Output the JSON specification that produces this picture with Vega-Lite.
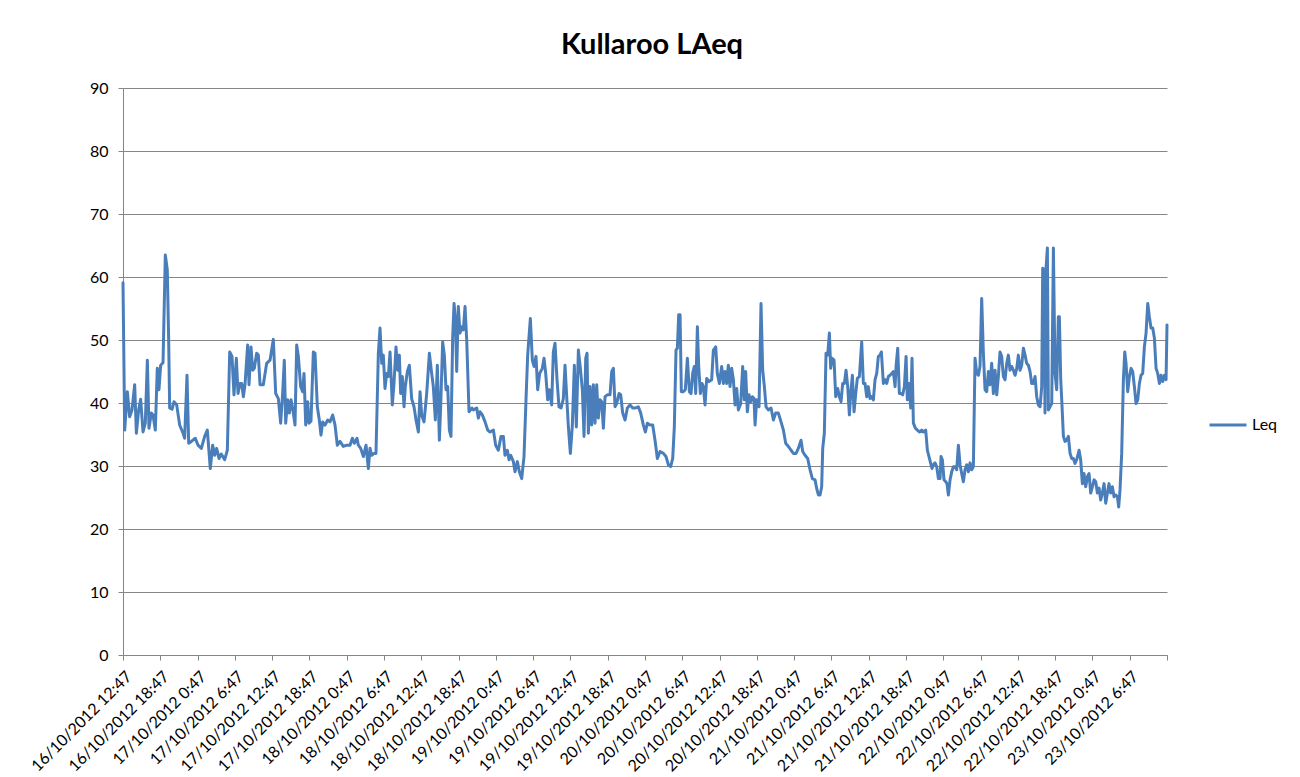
{
"$schema": "https://vega.github.io/schema/vega-lite/v6.json",
"width": 1044, "height": 567,
"autosize": {"type": "none"},
"padding": {"left": 123, "top": 88, "right": 133, "bottom": 122},
"background": "white",
"title": {"text": "Kullaroo LAeq", "anchor": "middle", "frame": "group", "fontSize": 29, "fontWeight": "bold", "font": "Lato", "color": "#000", "baseline": "alphabetic", "offset": -3, "dx": 7},
"data": {"values": [
{"hours":0,"leq":59.1},{"hours":0.27,"leq":35.7},{"hours":0.7,"leq":41.8},{"hours":1.07,"leq":37.8},{"hours":1.45,"leq":38.9},{"hours":1.88,"leq":42.9},{"hours":2.15,"leq":35.2},{"hours":2.52,"leq":38.9},{"hours":2.84,"leq":40.6},{"hours":3.22,"leq":35.4},{"hours":3.59,"leq":36.8},{"hours":3.92,"leq":46.8},{"hours":4.18,"leq":36.0},{"hours":4.56,"leq":38.4},{"hours":4.83,"leq":38.1},{"hours":5.2,"leq":35.7},{"hours":5.52,"leq":45.5},{"hours":5.79,"leq":42.1},{"hours":6.06,"leq":46.0},{"hours":6.44,"leq":46.4},{"hours":6.81,"leq":63.5},{"hours":7.13,"leq":61.1},{"hours":7.35,"leq":50.0},{"hours":7.51,"leq":39.2},{"hours":7.89,"leq":39.0},{"hours":8.21,"leq":40.2},{"hours":8.64,"leq":39.7},{"hours":9.12,"leq":36.5},{"hours":9.66,"leq":35.2},{"hours":9.92,"leq":34.4},{"hours":10.3,"leq":44.4},{"hours":10.57,"leq":33.6},{"hours":11.0,"leq":33.9},{"hours":11.64,"leq":34.4},{"hours":12.07,"leq":33.3},{"hours":12.61,"leq":32.8},{"hours":13.14,"leq":34.7},{"hours":13.57,"leq":35.7},{"hours":14.05,"leq":29.6},{"hours":14.43,"leq":33.3},{"hours":14.75,"leq":31.7},{"hours":15.07,"leq":32.8},{"hours":15.45,"leq":31.2},{"hours":15.82,"leq":31.9},{"hours":16.36,"leq":31.0},{"hours":16.79,"leq":32.5},{"hours":17.17,"leq":48.1},{"hours":17.54,"leq":47.4},{"hours":17.86,"leq":41.3},{"hours":18.24,"leq":47.1},{"hours":18.51,"leq":41.5},{"hours":18.83,"leq":43.1},
{"hours":19.1,"leq":43.1},{"hours":19.37,"leq":41.0},{"hours":19.63,"leq":42.9},{"hours":20.06,"leq":49.2},{"hours":20.28,"leq":42.9},{"hours":20.6,"leq":48.9},{"hours":20.87,"leq":45.2},{"hours":21.13,"leq":45.5},{"hours":21.51,"leq":47.9},{"hours":21.78,"leq":47.6},{"hours":22.05,"leq":42.9},{"hours":22.58,"leq":42.9},{"hours":23.12,"leq":46.3},{"hours":23.66,"leq":46.8},{"hours":23.92,"leq":48.4},{"hours":24.19,"leq":50.1},{"hours":24.57,"leq":41.5},{"hours":25.0,"leq":40.7},{"hours":25.37,"leq":36.8},{"hours":25.69,"leq":41.5},{"hours":25.96,"leq":46.8},{"hours":26.18,"leq":36.8},{"hours":26.5,"leq":40.5},{"hours":26.77,"leq":38.4},{"hours":27.04,"leq":40.5},{"hours":27.41,"leq":38.4},{"hours":27.68,"leq":36.5},{"hours":27.95,"leq":49.2},{"hours":28.22,"leq":47.4},{"hours":28.59,"leq":42.6},{"hours":28.91,"leq":41.8},{"hours":29.13,"leq":44.7},{"hours":29.4,"leq":36.5},{"hours":29.72,"leq":40.2},{"hours":29.93,"leq":36.8},{"hours":30.25,"leq":37.1},{"hours":30.63,"leq":48.1},{"hours":30.9,"leq":47.9},{"hours":31.27,"leq":39.4},{"hours":31.59,"leq":37.3},{"hours":31.86,"leq":34.9},{"hours":32.13,"leq":37.0},{"hours":32.51,"leq":36.5},{"hours":32.94,"leq":37.3},{"hours":33.31,"leq":37.0},{"hours":33.74,"leq":38.1},{"hours":34.12,"leq":36.5},{"hours":34.49,"leq":33.3},{"hours":34.92,"leq":33.9},{"hours":35.46,"leq":33.1},{"hours":35.99,"leq":33.3},{"hours":36.53,"leq":33.3},{"hours":36.91,"leq":34.4},{"hours":37.23,"leq":33.6},{"hours":37.66,"leq":34.4},
{"hours":37.87,"leq":33.3},{"hours":38.25,"leq":32.8},{"hours":38.68,"leq":31.5},{"hours":39.11,"leq":33.3},{"hours":39.48,"leq":29.6},{"hours":39.75,"leq":32.8},{"hours":40.02,"leq":31.7},{"hours":40.39,"leq":32.0},{"hours":40.71,"leq":32.0},{"hours":41.09,"leq":47.9},{"hours":41.36,"leq":51.9},{"hours":41.63,"leq":46.3},{"hours":41.89,"leq":47.6},{"hours":42.16,"leq":42.3},{"hours":42.43,"leq":44.7},{"hours":42.7,"leq":44.2},{"hours":42.97,"leq":48.1},{"hours":43.34,"leq":39.7},{"hours":43.61,"leq":43.1},{"hours":43.93,"leq":48.9},{"hours":44.2,"leq":45.2},{"hours":44.47,"leq":47.6},{"hours":44.68,"leq":41.5},{"hours":44.95,"leq":44.2},{"hours":45.22,"leq":39.4},{"hours":45.43,"leq":42.6},{"hours":45.76,"leq":45.0},{"hours":46.08,"leq":46.0},{"hours":46.45,"leq":40.7},{"hours":46.83,"leq":39.4},{"hours":47.15,"leq":37.3},{"hours":47.53,"leq":35.4},{"hours":47.8,"leq":41.8},{"hours":48.06,"leq":38.1},{"hours":48.44,"leq":37.0},{"hours":48.87,"leq":41.5},{"hours":49.3,"leq":47.9},{"hours":49.67,"leq":44.7},{"hours":49.94,"leq":42.6},{"hours":50.26,"leq":37.3},{"hours":50.58,"leq":46.0},{"hours":50.91,"leq":34.1},{"hours":51.12,"leq":39.4},{"hours":51.44,"leq":49.7},{"hours":51.71,"leq":47.6},{"hours":51.98,"leq":42.1},{"hours":52.25,"leq":42.6},{"hours":52.52,"leq":35.7},{"hours":52.78,"leq":34.7},{"hours":53.05,"leq":50.3},{"hours":53.27,"leq":55.8},{"hours":53.48,"leq":53.4},{"hours":53.7,"leq":45.0},{"hours":53.96,"leq":55.3},{"hours":54.23,"leq":51.1},{"hours":54.55,"leq":52.1},{"hours":54.77,"leq":51.6},{"hours":55.04,"leq":55.3},{"hours":55.31,"leq":50.0},{"hours":55.68,"leq":38.6},{"hours":56.16,"leq":39.2},
{"hours":56.38,"leq":38.9},{"hours":56.92,"leq":39.2},{"hours":57.18,"leq":37.6},{"hours":57.45,"leq":38.6},{"hours":57.83,"leq":38.1},{"hours":58.26,"leq":37.0},{"hours":58.69,"leq":35.7},{"hours":59.06,"leq":35.4},{"hours":59.6,"leq":35.7},{"hours":59.97,"leq":33.3},{"hours":60.4,"leq":32.5},{"hours":60.83,"leq":34.7},{"hours":61.21,"leq":34.7},{"hours":61.47,"leq":31.7},{"hours":61.85,"leq":32.5},{"hours":62.12,"leq":31.0},{"hours":62.39,"leq":31.7},{"hours":62.82,"leq":30.7},{"hours":63.08,"leq":29.1},{"hours":63.46,"leq":30.7},{"hours":63.78,"leq":29.1},{"hours":64.16,"leq":28.0},{"hours":64.53,"leq":31.5},{"hours":64.85,"leq":40.5},{"hours":65.12,"leq":47.6},{"hours":65.55,"leq":53.4},{"hours":65.87,"leq":46.8},{"hours":66.14,"leq":45.8},{"hours":66.46,"leq":47.4},{"hours":66.73,"leq":42.1},{"hours":67.05,"leq":44.7},{"hours":67.48,"leq":45.5},{"hours":67.75,"leq":47.1},{"hours":68.02,"leq":44.7},{"hours":68.34,"leq":40.5},{"hours":68.61,"leq":42.1},{"hours":68.98,"leq":39.7},{"hours":69.25,"leq":48.1},{"hours":69.52,"leq":49.5},{"hours":69.84,"leq":43.7},{"hours":70.16,"leq":39.4},{"hours":70.49,"leq":39.2},{"hours":70.86,"leq":40.7},{"hours":71.13,"leq":46.0},{"hours":71.4,"leq":41.0},{"hours":71.67,"leq":36.2},{"hours":71.99,"leq":32.0},{"hours":72.31,"leq":36.5},{"hours":72.63,"leq":46.0},{"hours":72.95,"leq":36.2},{"hours":73.28,"leq":48.4},{"hours":73.6,"leq":45.5},{"hours":73.92,"leq":42.1},{"hours":74.19,"leq":34.7},{"hours":74.46,"leq":47.1},{"hours":74.67,"leq":47.9},
{"hours":74.89,"leq":35.2},{"hours":75.15,"leq":42.6},{"hours":75.42,"leq":36.5},{"hours":75.69,"leq":42.9},{"hours":75.96,"leq":36.8},{"hours":76.23,"leq":42.9},{"hours":76.49,"leq":37.6},{"hours":76.76,"leq":40.5},{"hours":77.03,"leq":40.2},{"hours":77.3,"leq":36.0},{"hours":77.57,"leq":41.0},{"hours":77.94,"leq":41.3},{"hours":78.37,"leq":41.3},{"hours":78.64,"leq":45.0},{"hours":78.91,"leq":45.5},{"hours":79.18,"leq":39.4},{"hours":79.44,"leq":39.9},{"hours":79.82,"leq":41.5},{"hours":80.09,"leq":41.3},{"hours":80.41,"leq":38.4},{"hours":80.79,"leq":37.3},{"hours":81.16,"leq":39.2},{"hours":81.59,"leq":39.7},{"hours":82.02,"leq":39.2},{"hours":82.4,"leq":39.2},{"hours":82.93,"leq":39.4},{"hours":83.31,"leq":38.4},{"hours":83.74,"leq":36.5},{"hours":84.06,"leq":35.4},{"hours":84.38,"leq":36.8},{"hours":84.81,"leq":36.5},{"hours":85.24,"leq":36.5},{"hours":85.61,"leq":34.1},{"hours":85.99,"leq":31.2},{"hours":86.42,"leq":32.3},{"hours":86.96,"leq":32.0},{"hours":87.38,"leq":31.5},{"hours":87.76,"leq":30.2},{"hours":88.13,"leq":29.9},{"hours":88.46,"leq":31.2},{"hours":88.72,"leq":36.2},{"hours":88.99,"leq":48.4},{"hours":89.21,"leq":48.7},{"hours":89.42,"leq":54.0},{"hours":89.64,"leq":54.0},{"hours":89.85,"leq":41.8},{"hours":90.17,"leq":41.8},{"hours":90.49,"leq":42.1},{"hours":90.82,"leq":47.1},{"hours":91.14,"leq":41.8},{"hours":91.41,"leq":41.5},{"hours":91.67,"leq":44.7},{"hours":91.94,"leq":45.8},{"hours":92.16,"leq":41.5},{"hours":92.43,"leq":52.1},{"hours":92.64,"leq":45.8},{"hours":92.91,"leq":41.5},{"hours":93.18,"leq":43.1},
{"hours":93.39,"leq":42.6},{"hours":93.66,"leq":39.7},{"hours":93.93,"leq":43.9},{"hours":94.3,"leq":43.4},{"hours":94.73,"leq":43.7},{"hours":95.0,"leq":48.4},{"hours":95.38,"leq":48.9},{"hours":95.64,"leq":44.7},{"hours":95.97,"leq":43.1},{"hours":96.34,"leq":45.8},{"hours":96.61,"leq":43.1},{"hours":96.88,"leq":45.0},{"hours":97.15,"leq":43.1},{"hours":97.41,"leq":46.0},{"hours":97.68,"leq":42.6},{"hours":97.95,"leq":45.5},{"hours":98.22,"leq":43.7},{"hours":98.49,"leq":39.7},{"hours":98.76,"leq":42.3},{"hours":99.02,"leq":38.9},{"hours":99.4,"leq":39.9},{"hours":99.72,"leq":45.8},{"hours":99.99,"leq":40.5},{"hours":100.2,"leq":45.0},{"hours":100.47,"leq":38.6},{"hours":100.74,"leq":41.3},{"hours":101.01,"leq":40.2},{"hours":101.28,"leq":41.0},{"hours":101.54,"leq":40.7},{"hours":101.71,"leq":36.5},{"hours":101.97,"leq":40.5},{"hours":102.35,"leq":39.4},{"hours":102.67,"leq":55.8},{"hours":102.94,"leq":45.2},{"hours":103.21,"leq":42.6},{"hours":103.48,"leq":39.4},{"hours":103.85,"leq":38.9},{"hours":104.28,"leq":39.2},{"hours":104.66,"leq":37.3},{"hours":105.03,"leq":38.4},{"hours":105.46,"leq":38.4},{"hours":105.89,"leq":37.0},{"hours":106.27,"leq":35.7},{"hours":106.64,"leq":33.6},{"hours":107.07,"leq":33.1},{"hours":107.5,"leq":32.5},{"hours":107.88,"leq":32.0},{"hours":108.3,"leq":32.0},{"hours":108.68,"leq":32.8},{"hours":109.11,"leq":34.1},{"hours":109.38,"leq":32.3},{"hours":109.75,"leq":31.7},{"hours":110.18,"leq":31.2},{"hours":110.56,"leq":29.4},{"hours":110.93,"leq":28.0},{"hours":111.36,"leq":27.8},{"hours":111.68,"leq":26.2},
{"hours":111.9,"leq":25.4},{"hours":112.17,"leq":25.4},{"hours":112.43,"leq":26.7},{"hours":112.6,"leq":32.8},{"hours":112.86,"leq":35.2},{"hours":113.13,"leq":47.9},{"hours":113.4,"leq":47.6},{"hours":113.67,"leq":51.1},{"hours":113.88,"leq":45.5},{"hours":114.1,"leq":47.1},{"hours":114.42,"leq":46.8},{"hours":114.69,"leq":41.0},{"hours":115.01,"leq":42.3},{"hours":115.28,"leq":41.0},{"hours":115.55,"leq":40.2},{"hours":115.81,"leq":43.1},{"hours":116.08,"leq":43.1},{"hours":116.35,"leq":45.2},{"hours":116.62,"leq":42.6},{"hours":116.89,"leq":38.1},{"hours":117.1,"leq":41.5},{"hours":117.37,"leq":44.4},{"hours":117.64,"leq":38.6},{"hours":117.91,"leq":41.5},{"hours":118.17,"leq":43.9},{"hours":118.5,"leq":44.2},{"hours":118.87,"leq":49.7},{"hours":119.14,"leq":43.1},{"hours":119.41,"leq":43.1},{"hours":119.68,"leq":41.0},{"hours":119.94,"leq":42.6},{"hours":120.21,"leq":40.7},{"hours":120.48,"leq":41.0},{"hours":120.75,"leq":40.5},{"hours":121.02,"leq":43.7},{"hours":121.29,"leq":44.7},{"hours":121.55,"leq":47.4},{"hours":121.82,"leq":47.6},{"hours":122.04,"leq":48.1},{"hours":122.36,"leq":43.1},{"hours":122.63,"leq":43.7},{"hours":122.9,"leq":43.1},{"hours":123.16,"leq":44.2},{"hours":123.43,"leq":44.4},{"hours":123.7,"leq":44.7},{"hours":123.97,"leq":45.0},{"hours":124.24,"leq":42.6},{"hours":124.4,"leq":45.8},{"hours":124.67,"leq":48.7},{"hours":124.93,"leq":41.5},{"hours":125.2,"leq":41.5},{"hours":125.47,"leq":41.3},{"hours":125.74,"leq":42.6},{"hours":126.01,"leq":47.4},{"hours":126.22,"leq":40.5},{"hours":126.49,"leq":43.1},{"hours":126.76,"leq":39.2},{"hours":126.97,"leq":47.1},{"hours":127.19,"leq":36.8},{"hours":127.51,"leq":36.0},{"hours":127.83,"leq":35.7},{"hours":128.15,"leq":35.4},{"hours":128.53,"leq":35.7},{"hours":128.8,"leq":35.4},{"hours":129.17,"leq":35.7},{"hours":129.44,"leq":32.5},{"hours":129.77,"leq":31.2},{"hours":130.19,"leq":29.6},
{"hours":130.4,"leq":30.2},{"hours":130.67,"leq":30.5},{"hours":130.94,"leq":29.9},{"hours":131.21,"leq":28.0},{"hours":131.48,"leq":28.0},{"hours":131.64,"leq":31.5},{"hours":131.85,"leq":31.0},{"hours":132.12,"leq":27.8},{"hours":132.39,"leq":27.5},{"hours":132.6,"leq":27.2},{"hours":132.82,"leq":25.4},{"hours":133.09,"leq":27.8},{"hours":133.36,"leq":29.1},{"hours":133.62,"leq":29.9},{"hours":133.89,"leq":29.9},{"hours":134.16,"leq":29.4},{"hours":134.43,"leq":33.3},{"hours":134.7,"leq":30.2},{"hours":134.96,"leq":28.8},{"hours":135.23,"leq":27.5},{"hours":135.5,"leq":29.4},{"hours":135.77,"leq":30.2},{"hours":136.04,"leq":29.1},{"hours":136.31,"leq":30.5},{"hours":136.57,"leq":29.4},{"hours":136.84,"leq":29.9},{"hours":137.11,"leq":47.1},{"hours":137.38,"leq":44.7},{"hours":137.65,"leq":44.4},{"hours":137.91,"leq":45.8},{"hours":138.18,"leq":56.6},{"hours":138.45,"leq":47.9},{"hours":138.72,"leq":42.1},{"hours":138.99,"leq":41.8},{"hours":139.26,"leq":45.0},{"hours":139.52,"leq":42.9},{"hours":139.79,"leq":46.3},{"hours":140.06,"leq":41.5},{"hours":140.33,"leq":45.2},{"hours":140.6,"leq":41.3},{"hours":140.86,"leq":44.2},{"hours":141.13,"leq":48.1},{"hours":141.4,"leq":47.4},{"hours":141.67,"leq":44.2},{"hours":141.94,"leq":43.7},{"hours":142.21,"leq":46.3},{"hours":142.47,"leq":47.6},{"hours":142.74,"leq":45.2},{"hours":143.01,"leq":45.8},{"hours":143.28,"leq":45.2},{"hours":143.55,"leq":44.4},{"hours":143.82,"leq":45.5},{"hours":144.08,"leq":47.6},{"hours":144.35,"leq":45.2},{"hours":144.62,"leq":46.0},{"hours":144.89,"leq":48.7},{"hours":145.16,"leq":47.6},{"hours":145.42,"leq":46.3},{"hours":145.69,"leq":46.0},{"hours":145.96,"leq":45.0},{"hours":146.23,"leq":43.1},{"hours":146.5,"leq":43.1},{"hours":146.77,"leq":44.2},{"hours":147.03,"leq":41.0},{"hours":147.3,"leq":39.7},
{"hours":147.57,"leq":39.4},{"hours":147.84,"leq":42.6},{"hours":148.0,"leq":61.4},{"hours":148.21,"leq":61.1},{"hours":148.37,"leq":38.4},{"hours":148.54,"leq":61.4},{"hours":148.75,"leq":64.6},{"hours":148.91,"leq":38.9},{"hours":149.18,"leq":39.4},{"hours":149.45,"leq":39.9},{"hours":149.72,"leq":64.6},{"hours":149.98,"leq":44.7},{"hours":150.25,"leq":42.1},{"hours":150.52,"leq":53.7},{"hours":150.68,"leq":53.7},{"hours":150.9,"leq":43.7},{"hours":151.06,"leq":40.5},{"hours":151.33,"leq":34.7},{"hours":151.59,"leq":33.9},{"hours":151.86,"leq":34.1},{"hours":152.13,"leq":34.7},{"hours":152.4,"leq":32.0},{"hours":152.67,"leq":31.2},{"hours":152.93,"leq":31.2},{"hours":153.2,"leq":30.4},{"hours":153.47,"leq":31.0},{"hours":153.85,"leq":32.5},{"hours":154.11,"leq":31.0},{"hours":154.38,"leq":27.2},{"hours":154.65,"leq":28.8},{"hours":154.92,"leq":26.7},{"hours":155.19,"leq":28.3},{"hours":155.46,"leq":28.8},{"hours":155.72,"leq":25.7},{"hours":155.99,"leq":26.7},{"hours":156.26,"leq":27.8},{"hours":156.53,"leq":27.5},{"hours":156.8,"leq":25.7},{"hours":157.07,"leq":26.5},{"hours":157.33,"leq":24.6},{"hours":157.6,"leq":25.7},{"hours":157.87,"leq":27.2},{"hours":158.14,"leq":24.1},{"hours":158.41,"leq":25.7},{"hours":158.67,"leq":27.2},{"hours":158.94,"leq":25.7},{"hours":159.21,"leq":26.7},{"hours":159.48,"leq":25.1},{"hours":159.75,"leq":25.4},{"hours":160.02,"leq":25.1},{"hours":160.23,"leq":23.5},{"hours":160.44,"leq":26.2},{"hours":160.71,"leq":32.0},{"hours":160.98,"leq":43.7},{"hours":161.2,"leq":48.1},{"hours":161.41,"leq":46.3},{"hours":161.68,"leq":41.8},{"hours":161.95,"leq":44.2},{"hours":162.22,"leq":45.5},{"hours":162.48,"leq":45.0},{"hours":162.75,"leq":42.6},{"hours":163.02,"leq":39.9},{"hours":163.29,"leq":40.5},{"hours":163.56,"leq":43.1},{"hours":163.82,"leq":44.4},{"hours":164.09,"leq":44.7},{"hours":164.36,"leq":48.9},{"hours":164.63,"leq":51.1},{"hours":164.9,"leq":55.8},{"hours":165.16,"leq":53.7},{"hours":165.43,"leq":51.9},{"hours":165.7,"leq":51.9},{"hours":165.97,"leq":50.3},{"hours":166.24,"leq":45.5},{"hours":166.51,"leq":44.7},{"hours":166.78,"leq":43.1},{"hours":167.04,"leq":44.4},{"hours":167.31,"leq":43.4},{"hours":167.58,"leq":44.4},{"hours":167.85,"leq":43.7},{"hours":168,"leq":52.4}
]},
"mark": {"type": "line", "strokeWidth": 3, "strokeJoin": "round", "strokeCap": "round"},
"encoding": {
  "x": {"field": "hours", "type": "quantitative",
        "scale": {"domain": [0, 168], "nice": false, "zero": false},
        "axis": {"title": null, "grid": false, "values": [0,6,12,18,24,30,36,42,48,54,60,66,72,78,84,90,96,102,108,114,120,126,132,138,144,150,156,162,168],
                 "labelExpr": "datum.value < 168 ? utcFormat(utc(2012, 9, 16, 12, 47) + datum.value * 3600000, '%-d/%m/%Y %-H:%M') : ''",
                 "labelAngle": -45, "labelAlign": "right", "labelBaseline": "top", "labelOverlap": false, "labelBound": false, "labelFlush": false,
                 "labelFontSize": 16, "labelFont": "Lato", "labelColor": "#000", "labelPadding": 8,
                 "tickSize": 5, "tickColor": "#868686", "domainColor": "#868686", "domainWidth": 1}},
  "y": {"field": "leq", "type": "quantitative",
        "scale": {"domain": [0, 90], "nice": false},
        "axis": {"title": null, "values": [0,10,20,30,40,50,60,70,80,90], "grid": true, "gridColor": "#868686", "gridWidth": 1,
                 "labelFontSize": 16, "labelFont": "Lato", "labelColor": "#000", "labelPadding": 10,
                 "tickSize": 5, "tickColor": "#868686", "domainColor": "#868686", "domainWidth": 1}},
  "color": {"datum": "Leq", "type": "nominal", "scale": {"range": ["#4a7ebb"]},
            "legend": {"title": null, "orient": "none", "legendX": 1085, "legendY": 317, "symbolType": "stroke", "symbolSize": 1369, "symbolStrokeWidth": 3,
                       "labelFontSize": 16, "labelFont": "Lato", "labelColor": "#000", "labelOffset": 4, "padding": 0}}
},
"config": {"view": {"stroke": null}, "font": "Lato"}
}
